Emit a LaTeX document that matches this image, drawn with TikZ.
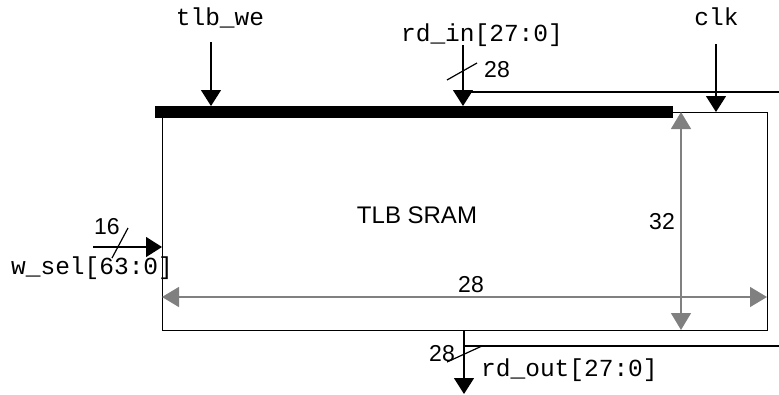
\documentclass[tikz,border=0pt]{standalone}
\usepackage{fontspec}
\setmainfont{Liberation Sans}
\setmonofont{Liberation Mono}
\usetikzlibrary{arrows.meta}
\definecolor{dimgray}{HTML}{808080}
\tikzset{
  wire/.style={line width=1.2pt, black},
  sigarrow/.style={wire, -{Triangle[length=16pt,width=20pt]}},
  dimline/.style={line width=1.5pt, dimgray,
    {Triangle[length=17pt,width=20pt]}-{Triangle[length=17pt,width=20pt]}},
  sig/.style={font=\fontsize{24.5}{26}\ttfamily, inner sep=0pt},
  num/.style={font=\fontsize{23}{25}\selectfont, inner sep=0pt},
  slash/.style={line width=1.2pt, black}
}
\begin{document}
\begin{tikzpicture}[x=1pt,y=-1pt]
  \useasboundingbox (0,0) rectangle (779,394);

  % memory block and its write-port bar
  \node[draw, line width=1.2pt, minimum width=605pt, minimum height=218pt,
        inner sep=0pt, anchor=north west] (sram) at (162,112) {};
  \node[fill=black, minimum width=518pt, minimum height=12pt, inner sep=0pt,
        anchor=west] (bar) at (155,112) {};
  \node[font=\fontsize{24}{26}\selectfont, inner sep=0pt] (title) at (417,215) {TLB SRAM};

  % input signals from above
  \node[sig, anchor=base] (tlbwe) at (220,25) {tlb\_we};
  \coordinate (tlbweS) at (211,42);
  \coordinate (tlbweE) at (211,106);
  \draw[sigarrow] (tlbweS) -- (tlbweE);

  \node[sig, anchor=base] (rdin) at (482,41) {rd\_in[27:0]};
  \coordinate (rdinS) at (463,45);
  \coordinate (rdinE) at (463,106);
  \draw[sigarrow] (rdinS) -- (rdinE);
  \coordinate (rdinB) at (463,92);
  \coordinate (rdinR) at (779,92);
  \draw[wire] (rdinB) -- (rdinR);
  \coordinate (s1a) at (447,80);
  \coordinate (s1b) at (477,63);
  \draw[slash] (s1a) -- (s1b);
  \node[num] (w1) at (497,70) {28};

  \node[sig, anchor=base] (clk) at (716.5,25) {clk};
  \coordinate (clkS) at (716,44);
  \coordinate (clkE) at (716,112);
  \draw[sigarrow] (clkS) -- (clkE);

  % write select from the left
  \node[sig, anchor=base west] (wsel) at (11,274) {w\_sel[63:0]};
  \coordinate (wselS) at (93,247);
  \coordinate (wselE) at (162,247);
  \draw[sigarrow] (wselS) -- (wselE);
  \coordinate (s2a) at (112,258);
  \coordinate (s2b) at (128,228);
  \draw[slash] (s2a) -- (s2b);
  \node[num] (w2) at (107,227) {16};

  % read output below
  \coordinate (rdoutS) at (464,330);
  \coordinate (rdoutE) at (464,394);
  \draw[sigarrow] (rdoutS) -- (rdoutE);
  \coordinate (rdoutB) at (464,346);
  \coordinate (rdoutR) at (779,346);
  \draw[wire] (rdoutB) -- (rdoutR);
  \coordinate (s3a) at (447,362);
  \coordinate (s3b) at (482,346);
  \draw[slash] (s3a) -- (s3b);
  \node[num] (w3) at (442,354) {28};
  \node[sig, anchor=base west] (rdout) at (481,376) {rd\_out[27:0]};

  % dimensions of the array
  \coordinate (dimL) at (162,297);
  \coordinate (dimR) at (767,297);
  \draw[dimline] (dimL) -- (dimR);
  \node[num] (cols) at (471,285) {28};
  \coordinate (dimT) at (681,112);
  \coordinate (dimB) at (681,330);
  \draw[dimline] (dimT) -- (dimB);
  \node[num] (rows) at (662,222) {32};
\end{tikzpicture}
\end{document}
